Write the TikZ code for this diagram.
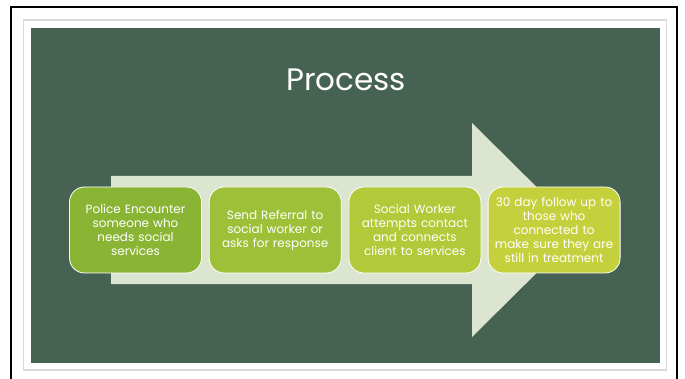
\documentclass[tikz,border=0pt]{standalone}
\usepackage{fontspec}
\setmainfont{Poppins}
\usepackage{tikz}
\usepackage{xcolor}
\definecolor{slidecolor}{RGB}{70,98,82}
\definecolor{arrowcolor}{RGB}{219,229,207}
\definecolor{framegray}{RGB}{217,217,217}
\definecolor{stepone}{RGB}{138,181,52}
\definecolor{steptwo}{RGB}{158,192,56}
\definecolor{stepthree}{RGB}{178,201,57}
\definecolor{stepfour}{RGB}{197,209,60}
\tikzstyle{basicstep}=[draw=white, line width=0.8pt, rounded corners=15pt, minimum width=132pt, minimum height=86pt, text width=128pt, align=center, text=white, inner sep=0pt, font=\fontsize{12}{14}\selectfont]
\tikzstyle{titleblock}=[text=white, font=\fontsize{31}{36}\selectfont]

\begin{document}
\begin{tikzpicture}[x=1pt, y=-1pt]
	\useasboundingbox (0,0) rectangle (685,379);
	\fill[white] (0,0) rectangle (685,379);
	\draw[line width=2pt] (11,379) -- (11,7) -- (677,7) -- (677,379);
	\draw[framegray, line width=1.5pt] (23.5,20) rectangle (666.5,370);
	\fill[slidecolor] (31,28) rectangle (660,363);
	% big arrow behind the steps
	\fill[arrowcolor] (111,176) -- (472,176) -- (472,123) -- (580,230) -- (472,337) -- (472,284) -- (111,284) -- cycle;
	\node (title) [titleblock] at (346,80) {Process};
	\node (encounter) [basicstep, fill=stepone] at (135.5,230) {Police Encounter\\ someone who\\ needs social\\ services};
	\path (encounter) + (139.7,0) node (referral) [basicstep, fill=steptwo] {Send Referral to\\ social worker or\\ asks for response};
	\path (referral) + (139.7,0) node (contact) [basicstep, fill=stepthree] {Social Worker\\ attempts contact\\ and connects\\ client to services};
	\path (contact) + (139.2,0) node (followup) [basicstep, fill=stepfour] {30 day follow up to\\ those who\\ connected to\\ make sure they are\\ still in treatment};
\end{tikzpicture}
\end{document}
